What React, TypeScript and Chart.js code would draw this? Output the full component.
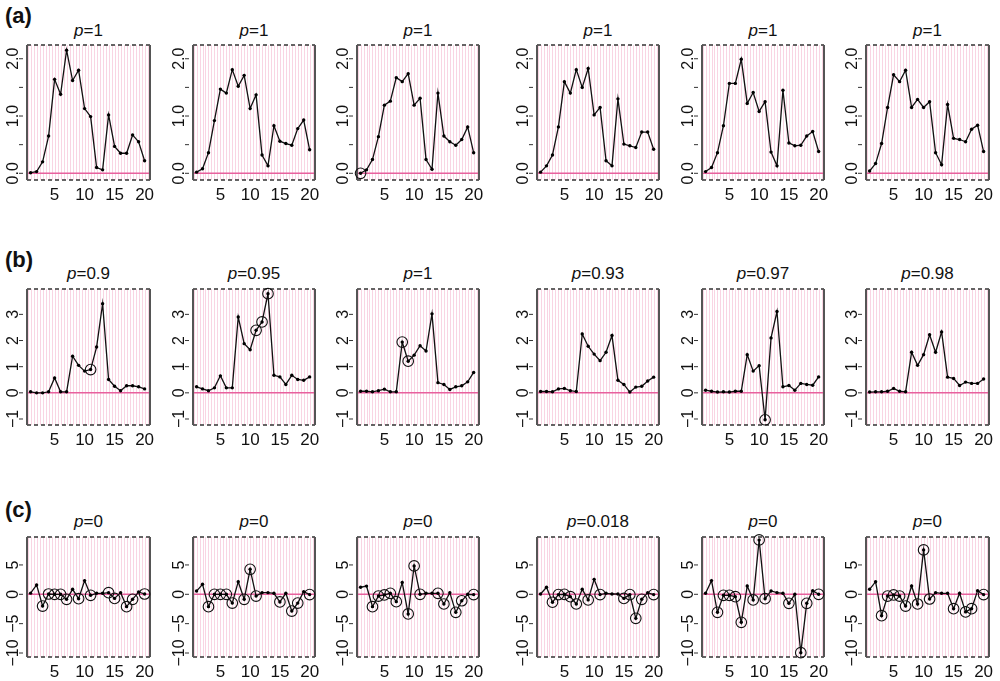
import React, { useEffect, useRef } from "react";
import { Chart, registerables } from "chart.js";

Chart.register(...registerables);

// ---------- data ----------
const xValues = [1, 2, 3, 4, 5, 6, 7, 8, 9, 10, 11, 12, 13, 14, 15, 16, 17, 18, 19, 20];
const xTickValues = [5, 10, 15, 20];

const rowATitles = ["1", "1", "1", "1", "1", "1"];
const rowBTitles = ["0.9", "0.95", "1", "0.93", "0.97", "0.98"];
const rowCTitles = ["0", "0", "0", "0.018", "0", "0"];

const a1 = [0.01, 0.03, 0.2, 0.65, 1.64, 1.38, 2.15, 1.62, 1.8, 1.13, 0.99, 0.1, 0.06, 1.02, 0.47, 0.35, 0.35, 0.67, 0.55, 0.22];
const a2 = [0.02, 0.08, 0.36, 0.92, 1.47, 1.4, 1.81, 1.52, 1.71, 1.13, 1.37, 0.32, 0.13, 0.83, 0.56, 0.52, 0.49, 0.78, 0.93, 0.41];
const a3 = [0.0, 0.06, 0.24, 0.64, 1.19, 1.26, 1.67, 1.6, 1.74, 1.19, 1.31, 0.24, 0.07, 1.4, 0.65, 0.55, 0.49, 0.59, 0.81, 0.36];
const a4 = [0.02, 0.13, 0.32, 0.81, 1.6, 1.4, 1.81, 1.5, 1.83, 1.02, 1.15, 0.22, 0.13, 1.3, 0.51, 0.48, 0.45, 0.72, 0.72, 0.42];
const a5 = [0.03, 0.1, 0.36, 0.83, 1.57, 1.57, 1.99, 1.22, 1.41, 1.08, 1.25, 0.37, 0.13, 1.45, 0.53, 0.48, 0.49, 0.65, 0.73, 0.38];
const a6 = [0.04, 0.17, 0.52, 1.15, 1.72, 1.6, 1.8, 1.15, 1.29, 1.15, 1.25, 0.36, 0.15, 1.2, 0.61, 0.59, 0.55, 0.77, 0.84, 0.38];

const b1 = [0.04, 0.0, 0.0, 0.04, 0.57, 0.04, 0.04, 1.4, 1.05, 0.83, 0.89, 1.75, 3.41, 0.51, 0.25, 0.08, 0.27, 0.27, 0.23, 0.15];
const b2 = [0.23, 0.15, 0.08, 0.19, 0.65, 0.19, 0.19, 2.9, 1.88, 1.65, 2.39, 2.71, 3.79, 0.67, 0.61, 0.32, 0.67, 0.51, 0.48, 0.61];
const b3 = [0.06, 0.06, 0.04, 0.08, 0.14, 0.04, 0.04, 1.94, 1.21, 1.44, 1.8, 1.6, 3.02, 0.39, 0.32, 0.13, 0.23, 0.27, 0.42, 0.78];
const b4 = [0.05, 0.05, 0.04, 0.15, 0.17, 0.08, 0.05, 2.25, 1.78, 1.48, 1.23, 1.55, 2.19, 0.48, 0.32, 0.03, 0.22, 0.25, 0.45, 0.6];
const b5 = [0.1, 0.06, 0.03, 0.04, 0.03, 0.06, 0.06, 1.46, 0.83, 1.04, -1.03, 2.1, 3.11, 0.23, 0.28, 0.1, 0.36, 0.32, 0.29, 0.61];
const b6 = [0.03, 0.04, 0.04, 0.06, 0.17, 0.06, 0.04, 1.55, 1.05, 1.46, 2.22, 1.55, 2.33, 0.6, 0.55, 0.28, 0.41, 0.36, 0.36, 0.53];

const c1 = [0.2, 1.6, -2.0, 0.05, 0, 0, -0.85, 0.85, -0.75, 2.33, -0.17, 0.17, 0.17, 0.28, -0.7, 0.28, -2.1, -0.85, 0.4, 0.05];
const c2 = [0.55, 1.7, -2.1, 0, 0, 0, -1.5, 2.15, -0.85, 4.26, -0.3, 0.28, 0.28, 0.17, -1.3, 0.17, -2.85, -1.5, 0.45, -0.05];
const c3 = [1.2, 1.4, -2.1, -0.3, -0.1, 0.17, -1.25, 2.0, -3.35, 4.83, 0, 0.17, 0.17, 0.17, -1.65, 0.28, -3.07, -1.1, 0, -0.05];
const c4 = [0.05, 1.2, -1.35, -0.05, 0, -0.4, -1.65, 0.85, -0.95, 2.55, -0.05, 0.17, 0.05, 0.05, -0.7, -0.05, -4.1, -0.85, 0.28, -0.05];
const c5 = [0.17, 2.33, -3.07, -0.17, -0.17, -0.4, -4.77, 1.42, -0.95, 9.26, -0.75, 0.57, 0.28, 0.17, -1.53, 0, -9.94, -1.53, 0.62, 0];
const c6 = [0.85, 2.15, -3.64, -0.3, -0.1, -0.3, -2.0, 1.42, -1.65, 7.56, -0.8, 0.28, 0.17, 0.17, -2.45, 0.17, -3.0, -2.45, 0.62, -0.05];

// indices (1-based x) of circled points
const aCircled = [[], [], [1], [], [], []];
const bCircled = [[11], [11, 12, 13], [8, 9], [], [11], []];
const cCircled = [
  [3, 4, 5, 6, 7, 9, 11, 14, 15, 17, 18, 20],
  [3, 4, 5, 6, 7, 9, 10, 11, 15, 17, 18, 20],
  [3, 4, 5, 6, 7, 9, 10, 11, 14, 15, 17, 18, 20],
  [3, 4, 5, 6, 7, 9, 11, 15, 16, 17, 18, 20],
  [3, 4, 5, 6, 7, 9, 10, 11, 15, 17, 18, 20],
  [3, 4, 5, 6, 7, 9, 10, 11, 15, 17, 18, 20],
];

const rowAYTicks = [0, 0.5, 1, 1.5, 2];
const rowAYLabels = ["0.0", "", "1.0", "", "2.0"];
const rowBYTicks = [-1, 0, 1, 2, 3];
const rowBYLabels = ["\u22121", "0", "1", "2", "3"];
const rowCYTicks = [-10, -5, 0, 5];
const rowCYLabels = ["\u221210", "\u22125", "0", "5"];

// ---------- layout ----------
const X_MIN = 0.4;
const X_MAX = 20.9;
const COL_L = [27, 193, 357, 537, 702, 866];
const COL_R = [150, 315, 479, 659, 824, 989];
const PAD = { left: 45, top: 10, right: 10, bottom: 30 };
const FONT = '"Liberation Sans", Arial, Helvetica, sans-serif';

const ROWS = [
  { label: "(a)", labelTop: 5, series: [a1, a2, a3, a4, a5, a6], circled: aCircled, titles: rowATitles,
    yMin: -0.117, yMax: 2.24, yTicks: rowAYTicks, yLabels: rowAYLabels, top: 45, bottom: 180, titleTop: 22 },
  { label: "(b)", labelTop: 249, series: [b1, b2, b3, b4, b5, b6], circled: bCircled, titles: rowBTitles,
    yMin: -1.23, yMax: 3.97, yTicks: rowBYTicks, yLabels: rowBYLabels, top: 289, bottom: 425, titleTop: 265 },
  { label: "(c)", labelTop: 499, series: [c1, c2, c3, c4, c5, c6], circled: cCircled, titles: rowCTitles,
    yMin: -10.68, yMax: 9.76, yTicks: rowCYTicks, yLabels: rowCYLabels, top: 537, bottom: 657, titleTop: 513 },
];

const decorPlugin = {
  id: "panelDecor",
  beforeDatasetsDraw(chart: any, _args: any, opts: any) {
    const { ctx, chartArea: ca, scales } = chart;
    const xs = scales.x;
    const ys = scales.y;
    ctx.save();
    // pink vertical guide lines
    ctx.strokeStyle = "#f9d5e3";
    ctx.lineWidth = 1;
    for (let v = 0.5; v <= 20.5; v += 0.5) {
      const px = Math.round(xs.getPixelForValue(v)) + 0.5;
      if (px < ca.left + 1.5 || px > ca.right - 1.5) continue;
      ctx.beginPath();
      ctx.moveTo(px, ca.top);
      ctx.lineTo(px, ca.bottom);
      ctx.stroke();
    }
    // zero line
    const y0 = ys.getPixelForValue(0);
    ctx.strokeStyle = "#e8619e";
    ctx.lineWidth = 1.5;
    ctx.beginPath();
    ctx.moveTo(ca.left, y0);
    ctx.lineTo(ca.right, y0);
    ctx.stroke();
    // frame: dashed top & bottom, solid sides
    ctx.strokeStyle = "#333";
    ctx.lineWidth = 1.3;
    ctx.setLineDash([4, 3]);
    ctx.beginPath();
    ctx.moveTo(ca.left, ca.top);
    ctx.lineTo(ca.right, ca.top);
    ctx.moveTo(ca.left, ca.bottom);
    ctx.lineTo(ca.right, ca.bottom);
    ctx.stroke();
    ctx.setLineDash([]);
    ctx.strokeStyle = "#555";
    ctx.lineWidth = 2;
    ctx.beginPath();
    ctx.moveTo(ca.left, ca.top);
    ctx.lineTo(ca.left, ca.bottom);
    ctx.moveTo(ca.right, ca.top);
    ctx.lineTo(ca.right, ca.bottom);
    ctx.stroke();
    // y ticks and rotated labels
    ctx.strokeStyle = "#333";
    ctx.lineWidth = 1;
    ctx.fillStyle = "#111";
    ctx.font = `16px ${FONT}`;
    (opts.yTicks as number[]).forEach((v, i) => {
      const py = ys.getPixelForValue(v);
      ctx.beginPath();
      ctx.moveTo(ca.left - 8, py);
      ctx.lineTo(ca.left - 4, py);
      ctx.stroke();
      const lab = opts.yLabels[i];
      if (!lab) return;
      ctx.save();
      ctx.translate(ca.left - 9, py);
      ctx.rotate(-Math.PI / 2);
      ctx.textAlign = "center";
      ctx.textBaseline = "alphabetic";
      ctx.fillText(lab, 0, 0);
      ctx.restore();
    });
    // x labels
    ctx.font = `17px ${FONT}`;
    ctx.textAlign = "center";
    ctx.textBaseline = "middle";
    xTickValues.forEach((v) => {
      ctx.fillText(String(v), xs.getPixelForValue(v), ca.bottom + 15);
    });
    ctx.restore();
  },
};

export default function App() {
  const refs = useRef<(HTMLCanvasElement | null)[]>([]);

  useEffect(() => {
    const charts: Chart[] = [];
    ROWS.forEach((row, r) => {
      row.series.forEach((vals, c) => {
        const canvas = refs.current[r * 6 + c];
        if (!canvas) return;
        const circ = row.circled[c];
        charts.push(
          new Chart(canvas, {
            type: "line",
            data: {
              datasets: [
                {
                  data: xValues.map((x, i) => ({ x, y: vals[i] })),
                  borderColor: "#111",
                  borderWidth: 1.3,
                  pointRadius: 1.7,
                  pointBackgroundColor: "#000",
                  pointBorderWidth: 0,
                  tension: 0,
                  fill: false,
                },
                {
                  data: circ.map((i) => ({ x: i, y: vals[i - 1] })),
                  showLine: false,
                  pointRadius: 5.3,
                  pointBorderColor: "#111",
                  pointBorderWidth: 1.1,
                  pointBackgroundColor: "rgba(0,0,0,0)",
                  clip: false,
                },
              ],
            } as any,
            options: {
              animation: false,
              responsive: false,
              maintainAspectRatio: false,
              events: [],
              layout: { padding: PAD },
              scales: {
                x: { type: "linear", display: false, min: X_MIN, max: X_MAX },
                y: { type: "linear", display: false, min: row.yMin, max: row.yMax },
              },
              plugins: {
                legend: { display: false },
                tooltip: { enabled: false },
                panelDecor: { yTicks: row.yTicks, yLabels: row.yLabels },
              } as any,
            },
            plugins: [decorPlugin],
          })
        );
      });
    });
    return () => charts.forEach((ch) => ch.destroy());
  }, []);

  const nodes: React.ReactNode[] = [];
  ROWS.forEach((row, r) => {
    nodes.push(
      <div
        key={`lab${r}`}
        style={{ position: "absolute", left: 5, top: row.labelTop, font: `bold 22px ${FONT}`, lineHeight: "22px", color: "#111" }}
      >
        {row.label}
      </div>
    );
    row.series.forEach((_v, c) => {
      const L = COL_L[c];
      const R = COL_R[c];
      const w = R - L + PAD.left + PAD.right;
      const h = row.bottom - row.top + PAD.top + PAD.bottom;
      nodes.push(
        <div
          key={`t${r}-${c}`}
          style={{
            position: "absolute",
            left: L - 20,
            width: R - L + 40,
            top: row.titleTop,
            textAlign: "center",
            font: `17px ${FONT}`,
            lineHeight: "17px",
            color: "#111",
            whiteSpace: "nowrap",
          }}
        >
          <i>p</i>={row.titles[c]}
        </div>
      );
      nodes.push(
        <canvas
          key={`c${r}-${c}`}
          ref={(el) => {
            refs.current[r * 6 + c] = el;
          }}
          width={w}
          height={h}
          style={{ position: "absolute", left: L - PAD.left, top: row.top - PAD.top, width: w, height: h }}
        />
      );
    });
  });

  return (
    <div style={{ position: "absolute", left: 0, top: 0, width: 1000, height: 681, background: "#fff", overflow: "hidden" }}>
      {nodes}
    </div>
  );
}
